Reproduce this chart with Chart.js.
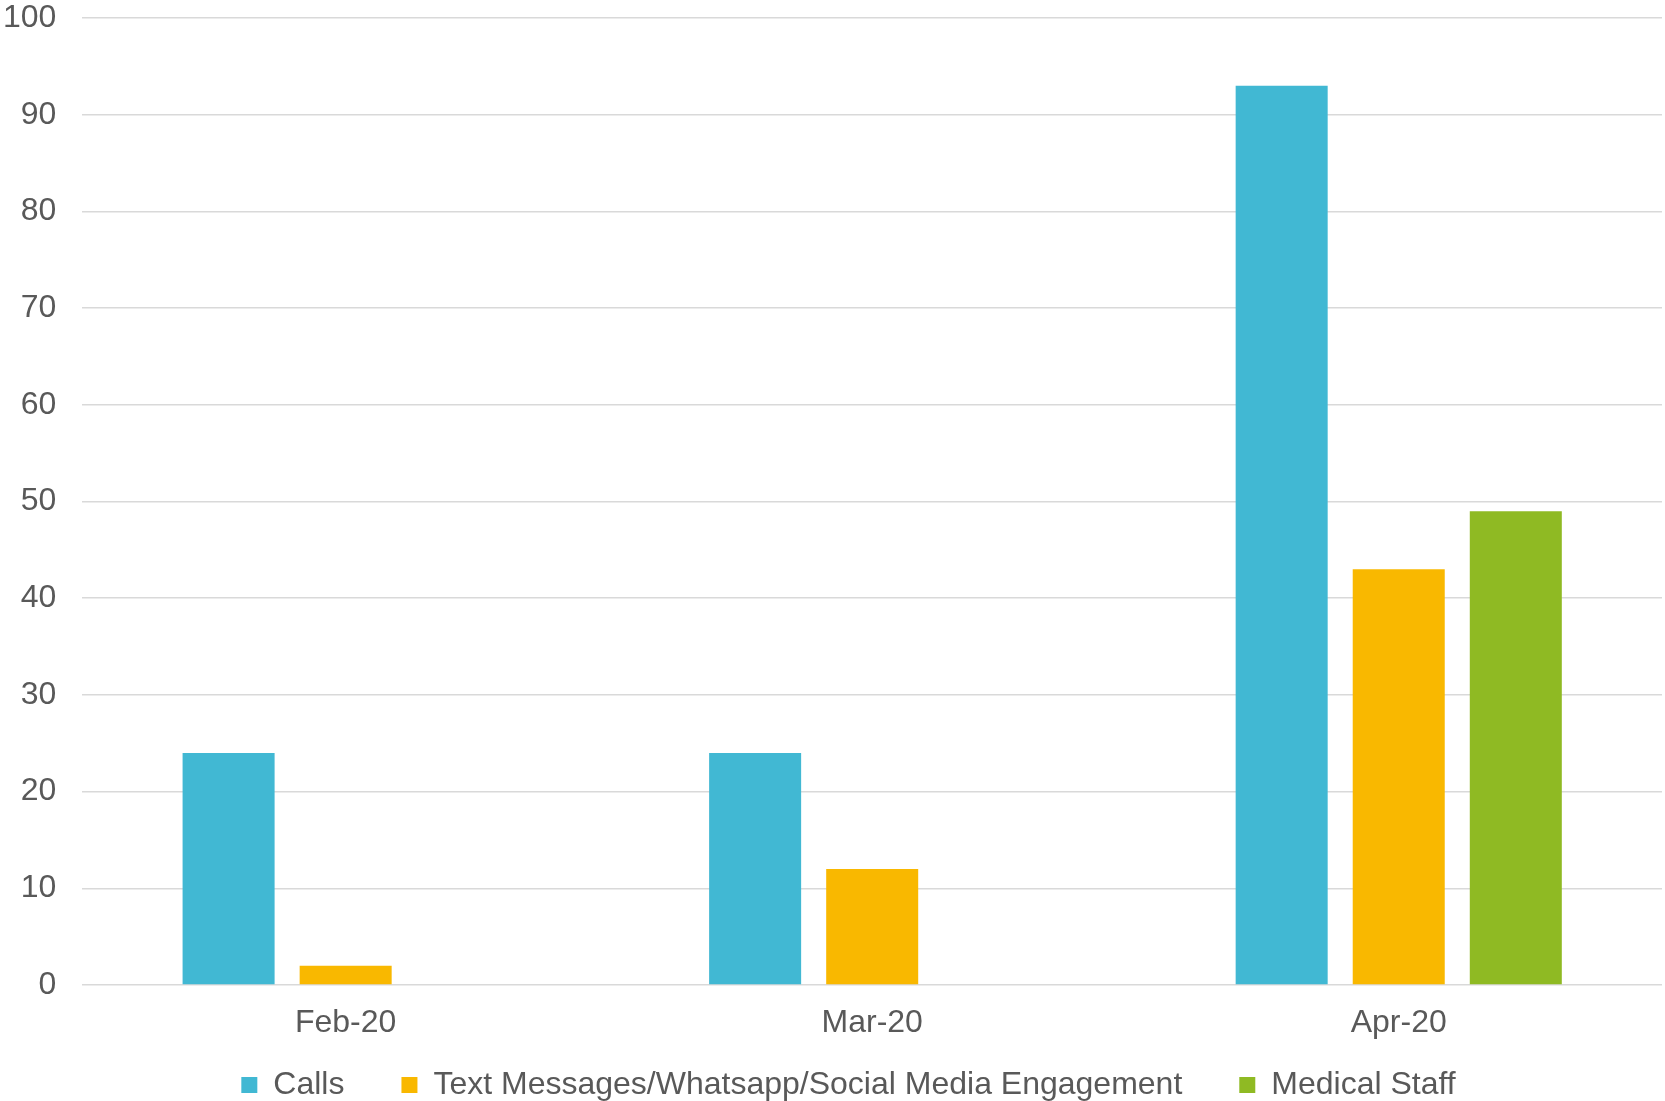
<!DOCTYPE html>
<html>
<head>
<meta charset="utf-8">
<script src="https://cdn.jsdelivr.net/npm/chart.js@4/dist/chart.umd.min.js"></script>
<style>
  body { margin: 0; background: #fff; }
  #wrap { width: 1665px; height: 1101px; position: relative; }
</style>
</head>
<body>
<div id="wrap"><canvas id="myChart"></canvas></div>
<script>
const months = ['Feb-20', 'Mar-20', 'Apr-20'];
const calls = [24, 24, 93];
const textMessages = [2, 12, 43];
const medicalStaff = [null, null, 49];
const yTicks = [0, 10, 20, 30, 40, 50, 60, 70, 80, 90, 100];

const font = { family: '"Liberation Sans", Arial, sans-serif', size: 32 };
const grey = '#595959';

function makeSet(label, data, color) {
  return {
    label,
    data,
    backgroundColor: color,
    borderWidth: 0,
    categoryPercentage: 0.667,
    barPercentage: 0.786
  };
}

// legend items are widely spaced (big padding), which also pushes them down;
// pull the legend box back up under the month labels and re-centre it
const liftLegend = {
  id: 'liftLegend',
  afterLayout(chart) {
    const lg = chart.legend;
    lg.top -= 33;
    lg.bottom -= 33;
    lg.left += 29;
    lg.right += 29;
  }
};

const ctx = document.getElementById('myChart').getContext('2d');

new Chart(ctx, {
  type: 'bar',
  data: {
    labels: months,
    datasets: [
      makeSet('Calls', calls, '#41b8d3'),
      makeSet('Text Messages/Whatsapp/Social Media Engagement', textMessages, '#f9b800'),
      makeSet('Medical Staff', medicalStaff, '#8fba23')
    ]
  },
  options: {
    responsive: true,
    maintainAspectRatio: false,
    animation: false,
    layout: { padding: { top: 18, right: 3, bottom: -43, left: -23 } },
    plugins: {
      tooltip: { enabled: false },
      legend: {
        position: 'bottom',
        labels: {
          color: grey,
          font,
          boxWidth: 16,
          boxHeight: 16,
          padding: 57
        }
      }
    },
    scales: {
      x: {
        grid: { display: false, drawTicks: false },
        border: { display: false },
        ticks: { color: grey, font, padding: 19 },
        afterFit: (axis) => { axis.height = 60; }
      },
      y: {
        min: 0,
        max: 100,
        afterBuildTicks: (axis) => {
          axis.ticks = yTicks.map((v) => ({ value: v }));
        },
        afterFit: (axis) => {
          axis.paddingTop = 0;
          axis.paddingBottom = 0;
        },
        grid: { color: '#d9d9d9', lineWidth: 1.5, drawTicks: false },
        border: { display: false },
        ticks: { color: grey, font, padding: 26 }
      }
    }
  },
  plugins: [liftLegend]
});
</script>
</body>
</html>
